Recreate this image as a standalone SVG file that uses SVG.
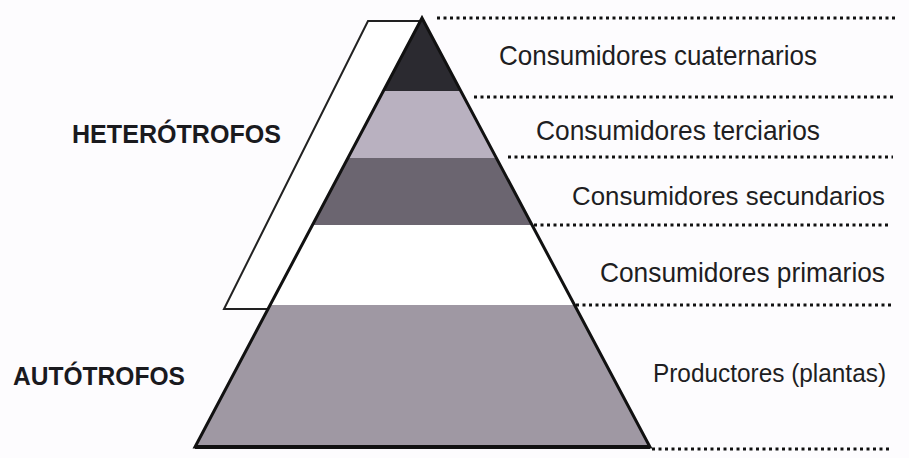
<svg xmlns="http://www.w3.org/2000/svg" width="909" height="458" viewBox="0 0 909 458">
<style>
.lbl{font-family:"Liberation Sans",Arial,sans-serif;font-size:28px;fill:#1e1e22}
.sm{font-size:26px}
.grp{font-family:"Liberation Sans",Arial,sans-serif;font-size:25px;font-weight:bold;fill:#1a1a1e}
.dot{stroke:#111;stroke-width:3;stroke-dasharray:3 3.5;fill:none}
</style>
<rect width="909" height="458" fill="#fdfcfe"/>
<g id="heterotrofos-bracket">
<polygon points="368,21 422,21 272,309 224,309" fill="#ffffff" stroke="#222" stroke-width="2"/>
</g>
<g id="pyramid">
<polygon id="level-productores" points="270,305 574,305 650,447 195,447" fill="#9f98a3"/>
<polygon id="level-primarios" points="312,225 532,225 574,305 270,305" fill="#ffffff"/>
<polygon id="level-secundarios" points="348,158 496,158 532,225 312,225" fill="#6b6570"/>
<polygon id="level-terciarios" points="383,91 461,91 496,158 348,158" fill="#b9b1c0"/>
<polygon id="level-cuaternarios" points="422,18 461,91 383,91" fill="#2b2a30"/>
<polygon points="422,18 650,447 195,447" fill="none" stroke="#111" stroke-width="3" stroke-linejoin="miter"/>
<line x1="195" y1="447" x2="650" y2="447" stroke="#111" stroke-width="4"/>
</g>
<g id="connectors">
<line class="dot" x1="437" y1="18" x2="895" y2="18"/>
<line class="dot" x1="474" y1="97" x2="893" y2="97"/>
<line class="dot" x1="508" y1="157" x2="893" y2="157"/>
<line class="dot" x1="534" y1="225" x2="889" y2="225"/>
<line class="dot" x1="576" y1="305" x2="891" y2="305"/>
<line class="dot" x1="652" y1="449" x2="891" y2="449"/>
</g>
<g id="labels">
<text class="lbl" x="499" y="65" textLength="318" lengthAdjust="spacingAndGlyphs">Consumidores cuaternarios</text>
<text class="lbl" x="536" y="140" textLength="284" lengthAdjust="spacingAndGlyphs">Consumidores terciarios</text>
<text class="lbl sm" x="572" y="205" textLength="313" lengthAdjust="spacingAndGlyphs">Consumidores secundarios</text>
<text class="lbl" x="600" y="282" textLength="285" lengthAdjust="spacingAndGlyphs">Consumidores primarios</text>
<text class="lbl sm" x="653" y="382" textLength="233" lengthAdjust="spacingAndGlyphs">Productores (plantas)</text>
<text class="grp" x="72" y="143" textLength="209" lengthAdjust="spacingAndGlyphs">HETERÓTROFOS</text>
<text class="grp" x="13" y="385" textLength="172" lengthAdjust="spacingAndGlyphs">AUTÓTROFOS</text>
</g>
</svg>
